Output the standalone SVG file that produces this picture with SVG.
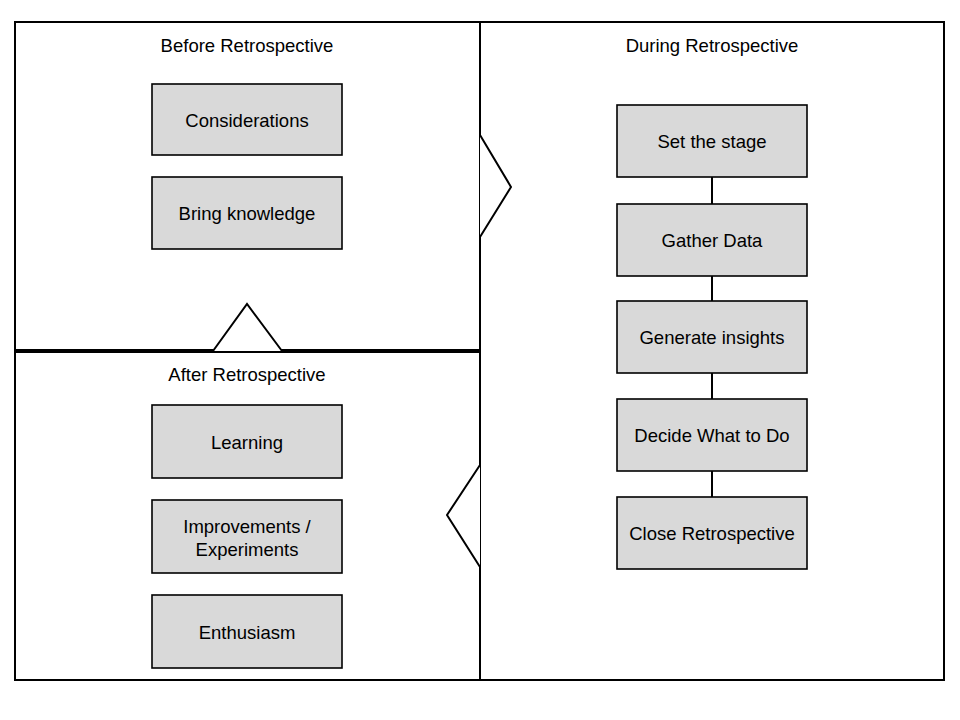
<svg xmlns="http://www.w3.org/2000/svg" width="960" height="720" viewBox="0 0 960 720">
<style>
.panel{fill:#ffffff;stroke:#000;stroke-width:2}
.box{fill:#d9d9d9;stroke:#000;stroke-width:1.6}
.tri{fill:#ffffff;stroke:#000;stroke-width:2;stroke-linejoin:miter}
.t{font-family:"Liberation Sans",Arial,sans-serif;font-size:18.5px;fill:#000;text-anchor:middle}
.link{stroke:#000;stroke-width:2;fill:none}
</style>
<rect width="960" height="720" fill="#ffffff"/>
<g id="before">
<rect class="panel" x="15" y="22" width="465" height="328"/>
<text class="t" x="247" y="52">Before Retrospective</text>
</g>
<g id="during">
<rect class="panel" x="480" y="22" width="464" height="658"/>
<text class="t" x="712" y="52">During Retrospective</text>
</g>
<g id="after">
<rect class="panel" x="15" y="352" width="465" height="328"/>
<text class="t" x="247" y="381">After Retrospective</text>
</g>
<g id="connectors">
<polyline class="tri" points="213,351 247,304 282,351"/>
<polyline class="tri" points="480,135 511,187 480,237"/>
<polyline class="tri" points="480,465 447,515 480,567"/>
<line class="link" x1="712" y1="177" x2="712" y2="204"/>
<line class="link" x1="712" y1="276" x2="712" y2="301"/>
<line class="link" x1="712" y1="373" x2="712" y2="399"/>
<line class="link" x1="712" y1="471" x2="712" y2="497"/>
</g>
<g id="considerations"><rect class="box" x="152" y="84" width="190" height="71"/><text class="t" x="247" y="127">Considerations</text></g>
<g id="bring-knowledge"><rect class="box" x="152" y="177" width="190" height="72"/><text class="t" x="247" y="220">Bring knowledge</text></g>
<g id="learning"><rect class="box" x="152" y="405" width="190" height="73"/><text class="t" x="247" y="449">Learning</text></g>
<g id="improvements"><rect class="box" x="152" y="500" width="190" height="73"/><text class="t" x="247" y="533">Improvements /</text><text class="t" x="247" y="556">Experiments</text></g>
<g id="enthusiasm"><rect class="box" x="152" y="595" width="190" height="73"/><text class="t" x="247" y="639">Enthusiasm</text></g>
<g id="set-the-stage"><rect class="box" x="617" y="105" width="190" height="72"/><text class="t" x="712" y="148">Set the stage</text></g>
<g id="gather-data"><rect class="box" x="617" y="204" width="190" height="72"/><text class="t" x="712" y="247">Gather Data</text></g>
<g id="generate-insights"><rect class="box" x="617" y="301" width="190" height="72"/><text class="t" x="712" y="344">Generate insights</text></g>
<g id="decide"><rect class="box" x="617" y="399" width="190" height="72"/><text class="t" x="712" y="442">Decide What to Do</text></g>
<g id="close"><rect class="box" x="617" y="497" width="190" height="72"/><text class="t" x="712" y="540">Close Retrospective</text></g>
</svg>
